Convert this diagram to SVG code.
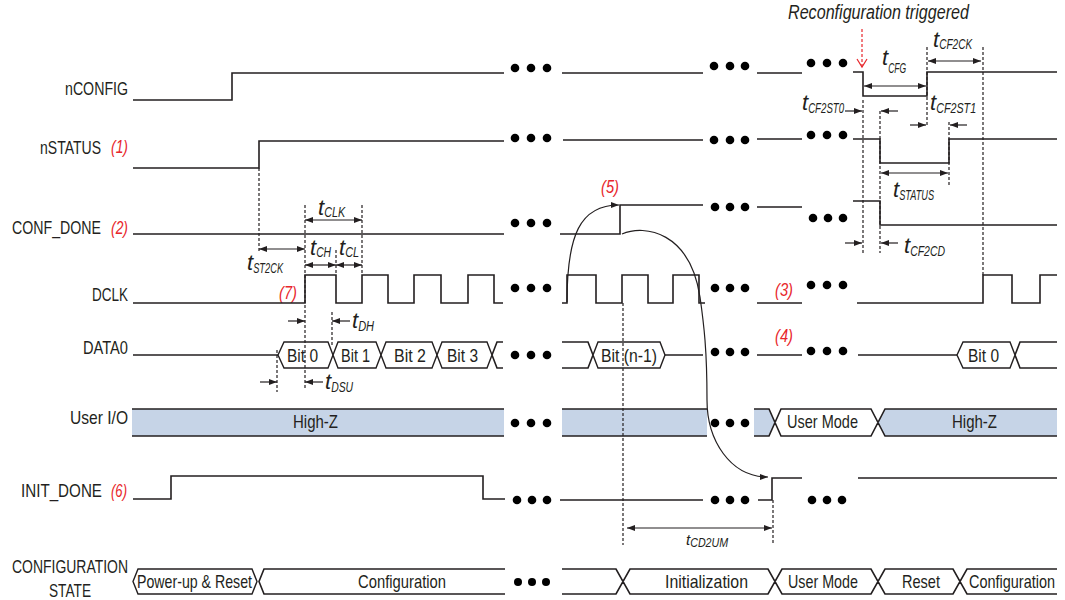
<svg xmlns="http://www.w3.org/2000/svg" width="1065" height="600" viewBox="0 0 1065 600">
<defs>
<style>
text{font-family:"Liberation Sans Narrow","Liberation Sans",Arial,sans-serif;fill:#231f20;font-size:19px}
.red{fill:#e8262b;font-style:italic}
.tm{font-style:italic;font-size:22px}
.sub{font-size:15px}
.sig{fill:none;stroke:#231f20;stroke-width:1.6}
.dash{fill:none;stroke:#231f20;stroke-width:1.2;stroke-dasharray:3 2}
.arr{fill:none;stroke:#231f20;stroke-width:1.2}
.a1{marker-end:url(#ah)}
.a2{marker-start:url(#ah);marker-end:url(#ah)}
.dot{fill:#000}
.band{fill:#c6d4e7}
.hexw{fill:#fff;stroke:#231f20;stroke-width:1.4}
</style>
<marker id="ah" viewBox="0 0 8 6" refX="8" refY="3" markerWidth="8" markerHeight="6" markerUnits="userSpaceOnUse" orient="auto-start-reverse"><path d="M0,0 L8,3 L0,6 z" fill="#231f20"/></marker>
</defs>
<rect x="0" y="0" width="1065" height="600" fill="#fff"/>

<g id="nconfig">
<text x="65" y="95" textLength="63" lengthAdjust="spacingAndGlyphs">nCONFIG</text>
<path class="sig" d="M133,100 H232 V73 H504 M562,73 H703 M757,73 H802 M853,72 H863 V96 H927 V72 H1057"/>
<circle class="dot" cx="515" cy="68" r="4.3"/><circle class="dot" cx="531" cy="68" r="4.3"/><circle class="dot" cx="547" cy="68" r="4.3"/>
<circle class="dot" cx="714" cy="66" r="4.3"/><circle class="dot" cx="730" cy="66" r="4.3"/><circle class="dot" cx="745" cy="66" r="4.3"/>
<circle class="dot" cx="811" cy="63" r="4.3"/><circle class="dot" cx="827" cy="63" r="4.3"/><circle class="dot" cx="843" cy="63" r="4.3"/>
</g>

<g id="nstatus">
<text x="40" y="154" textLength="61" lengthAdjust="spacingAndGlyphs">nSTATUS</text>
<text class="red" x="111" y="153" textLength="17" lengthAdjust="spacingAndGlyphs">(1)</text>
<path class="sig" d="M133,168 H259 V141 H504 M563,140 H703 M757,139 H802 M853,139 H880 V163 H949 V139 H1057"/>
<circle class="dot" cx="515" cy="138" r="4.3"/><circle class="dot" cx="531" cy="138" r="4.3"/><circle class="dot" cx="547" cy="138" r="4.3"/>
<circle class="dot" cx="714" cy="140" r="4.3"/><circle class="dot" cx="730" cy="140" r="4.3"/><circle class="dot" cx="745" cy="140" r="4.3"/>
<circle class="dot" cx="811" cy="135" r="4.3"/><circle class="dot" cx="827" cy="135" r="4.3"/><circle class="dot" cx="843" cy="135" r="4.3"/>
</g>

<g id="conf_done">
<text x="12" y="234" textLength="89" lengthAdjust="spacingAndGlyphs">CONF_DONE</text>
<text class="red" x="111" y="234" textLength="17" lengthAdjust="spacingAndGlyphs">(2)</text>
<path class="sig" d="M133,234 H504 M560,234 H620 V205 H703 M757,207 H802 M853,201 H880 V225 H1057"/>
<circle class="dot" cx="515" cy="223" r="4.3"/><circle class="dot" cx="531" cy="223" r="4.3"/><circle class="dot" cx="547" cy="223" r="4.3"/>
<circle class="dot" cx="715" cy="207" r="4.3"/><circle class="dot" cx="730" cy="207" r="4.3"/><circle class="dot" cx="745" cy="207" r="4.3"/>
<circle class="dot" cx="813" cy="218" r="4.3"/><circle class="dot" cx="828" cy="218" r="4.3"/><circle class="dot" cx="843" cy="218" r="4.3"/>
<text class="red" x="601" y="193" textLength="18" lengthAdjust="spacingAndGlyphs">(5)</text>
</g>

<g id="dclk">
<text x="92" y="301" textLength="36" lengthAdjust="spacingAndGlyphs">DCLK</text>
<text class="red" x="279" y="299" textLength="18" lengthAdjust="spacingAndGlyphs">(7)</text>
<text class="red" x="775" y="296" textLength="18" lengthAdjust="spacingAndGlyphs">(3)</text>
<path class="sig" d="M133,303 H305 V275 H336 V303 H362 V275 H388 V303 H414 V275 H441 V303 H468 V275 H494 V303 H503 M562,303 H567 V275 H596 V303 H622 V275 H648 V303 H673 V275 H699 V303 H705 M757,303 H802 M857,303 H983 V275 H1012 V303 H1040 V275 H1057"/>
<circle class="dot" cx="515" cy="288" r="4.3"/><circle class="dot" cx="531" cy="288" r="4.3"/><circle class="dot" cx="547" cy="288" r="4.3"/>
<circle class="dot" cx="715" cy="288" r="4.3"/><circle class="dot" cx="730" cy="288" r="4.3"/><circle class="dot" cx="745" cy="288" r="4.3"/>
<circle class="dot" cx="811" cy="285" r="4.3"/><circle class="dot" cx="827" cy="285" r="4.3"/><circle class="dot" cx="843" cy="285" r="4.3"/>
</g>

<g id="data0">
<text x="83" y="354" textLength="45" lengthAdjust="spacingAndGlyphs">DATA0</text>
<text class="red" x="775" y="342" textLength="18" lengthAdjust="spacingAndGlyphs">(4)</text>
<path class="sig" d="M133,355 H278 M492,355 L497,342 H503 M492,355 L497,368 H503 M562,342 H588 L593,355 M562,368 H588 L593,355 M665,355 H703 M757,355 H802 M858,355 H957 M1015,355 L1020,342 H1057 M1015,355 L1020,368 H1057"/>
<polygon class="hexw" points="278,355 284,342 328,342 333,355 328,368 284,368"/>
<polygon class="hexw" points="333,355 338,342 376,342 381,355 376,368 338,368"/>
<polygon class="hexw" points="381,355 386,342 432,342 437,355 432,368 386,368"/>
<polygon class="hexw" points="437,355 442,342 487,342 492,355 487,368 442,368"/>
<polygon class="hexw" points="593,355 598,342 660,342 665,355 660,368 598,368"/>
<polygon class="hexw" points="957,355 963,342 1010,342 1015,355 1010,368 963,368"/>
<text x="287" y="362" textLength="31" lengthAdjust="spacingAndGlyphs">Bit 0</text>
<text x="341" y="362" textLength="29" lengthAdjust="spacingAndGlyphs">Bit 1</text>
<text x="394" y="362" textLength="32" lengthAdjust="spacingAndGlyphs">Bit 2</text>
<text x="447" y="362" textLength="31" lengthAdjust="spacingAndGlyphs">Bit 3</text>
<text x="601" y="362" textLength="56" lengthAdjust="spacingAndGlyphs">Bit (n-1)</text>
<text x="968" y="362" textLength="31" lengthAdjust="spacingAndGlyphs">Bit 0</text>
<circle class="dot" cx="515" cy="355" r="4.3"/><circle class="dot" cx="531" cy="355" r="4.3"/><circle class="dot" cx="547" cy="355" r="4.3"/>
<circle class="dot" cx="715" cy="352" r="4.3"/><circle class="dot" cx="730" cy="352" r="4.3"/><circle class="dot" cx="745" cy="352" r="4.3"/>
<circle class="dot" cx="811" cy="351" r="4.3"/><circle class="dot" cx="827" cy="351" r="4.3"/><circle class="dot" cx="843" cy="351" r="4.3"/>
</g>

<g id="user_io">
<text x="70" y="424" textLength="58" lengthAdjust="spacingAndGlyphs">User I/O</text>
<rect class="band" x="132" y="409" width="372" height="27"/>
<rect class="band" x="562" y="409" width="145" height="27"/>
<polygon class="band" points="754,409 769,409 775,422.5 769,436 754,436"/>
<polygon fill="#fff" points="775,422.5 781,409 871,409 878,422.5 871,436 781,436"/>
<polygon class="band" points="878,422.5 885,409 1057,409 1057,436 885,436"/>
<path class="sig" d="M132,409 H504 M132,436 H504 M562,409 H707 M562,436 H707 M754,409 H769 L781,436 H871 L885,409 H1057 M754,436 H769 L781,409 H871 L885,436 H1057"/>
<text x="293" y="428" textLength="45" lengthAdjust="spacingAndGlyphs">High-Z</text>
<text x="787" y="428" textLength="71" lengthAdjust="spacingAndGlyphs">User Mode</text>
<text x="952" y="428" textLength="45" lengthAdjust="spacingAndGlyphs">High-Z</text>
<circle class="dot" cx="515" cy="423" r="4.3"/><circle class="dot" cx="531" cy="423" r="4.3"/><circle class="dot" cx="547" cy="423" r="4.3"/>
<circle class="dot" cx="715" cy="423" r="4.3"/><circle class="dot" cx="730" cy="423" r="4.3"/><circle class="dot" cx="745" cy="423" r="4.3"/>
</g>

<g id="init_done">
<text x="21" y="497" textLength="81" lengthAdjust="spacingAndGlyphs">INIT_DONE</text>
<text class="red" x="111" y="497" textLength="16" lengthAdjust="spacingAndGlyphs">(6)</text>
<path class="sig" d="M133,499 H171 V476 H483 V499 H505 M560,500 H703 M758,500 H772 V478 H802 M858,478 H1057"/>
<circle class="dot" cx="517" cy="500" r="4.3"/><circle class="dot" cx="532" cy="500" r="4.3"/><circle class="dot" cx="547" cy="500" r="4.3"/>
<circle class="dot" cx="715" cy="500" r="4.3"/><circle class="dot" cx="730" cy="500" r="4.3"/><circle class="dot" cx="745" cy="500" r="4.3"/>
<circle class="dot" cx="812" cy="500" r="4.3"/><circle class="dot" cx="827" cy="500" r="4.3"/><circle class="dot" cx="842" cy="500" r="4.3"/>
</g>

<g id="config_state">
<text x="12" y="573" textLength="116" lengthAdjust="spacingAndGlyphs">CONFIGURATION</text>
<text x="49" y="597" textLength="42" lengthAdjust="spacingAndGlyphs">STATE</text>
<polygon class="hexw" points="133,581.5 138,569 252,569 257,581.5 252,594 138,594"/>
<path class="sig" d="M505,569 H264 L259,581.5 L264,594 H505 M562,569 H616 L630,594 H768 L782,569 H871 L885,594 H953 L967,569 H1057 M562,594 H616 L630,569 H768 L782,594 H871 L885,569 H953 L967,594 H1057"/>
<text x="137" y="588" textLength="115" lengthAdjust="spacingAndGlyphs">Power-up &amp; Reset</text>
<text x="358" y="588" textLength="88" lengthAdjust="spacingAndGlyphs">Configuration</text>
<text x="665" y="588" textLength="83" lengthAdjust="spacingAndGlyphs">Initialization</text>
<text x="788" y="588" textLength="70" lengthAdjust="spacingAndGlyphs">User Mode</text>
<text x="902" y="588" textLength="38" lengthAdjust="spacingAndGlyphs">Reset</text>
<text x="969" y="588" textLength="86" lengthAdjust="spacingAndGlyphs">Configuration</text>
<circle class="dot" cx="518" cy="582" r="4"/><circle class="dot" cx="532" cy="582" r="4"/><circle class="dot" cx="546" cy="582" r="4"/>
</g>

<g id="connectors">
<path class="dash" d="M259,168 V252 M305,205 V390 M362,205 V275 M336,250 V275 M332,312 V347 M277,350 V392 M623,303 V545 M773,500 V545 M863,100 V253 M880,111 V253 M927,47 V125 M949,122 V186 M983,47 V275"/>
<line class="arr a2" x1="259" y1="249" x2="305" y2="249"/>
<line class="arr a2" x1="305" y1="220" x2="362" y2="220"/>
<line class="arr a2" x1="305" y1="265" x2="336" y2="265"/>
<line class="arr a2" x1="336" y1="265" x2="362" y2="265"/>
<line class="arr a1" x1="288" y1="321" x2="305" y2="321"/>
<line class="arr a1" x1="350" y1="321" x2="332" y2="321"/>
<line class="arr a1" x1="260" y1="382" x2="277" y2="382"/>
<line class="arr a1" x1="323" y1="382" x2="305" y2="382"/>
<line class="arr a2" x1="627" y1="528" x2="772" y2="528"/>
<line class="arr a2" x1="864" y1="86" x2="926" y2="86"/>
<line class="arr a2" x1="928" y1="61" x2="981" y2="61"/>
<line class="arr a1" x1="845" y1="111" x2="862" y2="111"/>
<line class="arr a1" x1="898" y1="111" x2="881" y2="111"/>
<line class="arr a1" x1="910" y1="125" x2="926" y2="125"/>
<line class="arr a1" x1="967" y1="125" x2="950" y2="125"/>
<line class="arr a2" x1="881" y1="173" x2="948" y2="173"/>
<line class="arr a1" x1="845" y1="243" x2="862" y2="243"/>
<line class="arr a1" x1="898" y1="243" x2="881" y2="243"/>
<path class="arr a1" d="M567,302 C567,235 580,205 619,205"/>
<path class="arr a1" d="M622,234 C645,224 690,232 700,297 C704,325 707,350 707,400 C707,440 730,477 768,477"/>
<line x1="862" y1="29" x2="862" y2="66" stroke="#e8262b" stroke-width="1.2" stroke-dasharray="3 2"/>
<polyline points="857,59 862,67 867,59" fill="none" stroke="#e8262b" stroke-width="1.2"/>
<text class="tm" x="788" y="19" style="font-size:20px" textLength="181" lengthAdjust="spacingAndGlyphs">Reconfiguration triggered</text>
<text class="tm" x="318" y="215">t<tspan class="sub" dy="2" textLength="21" lengthAdjust="spacingAndGlyphs">CLK</tspan></text>
<text class="tm" x="310" y="255">t<tspan class="sub" dy="2" textLength="15" lengthAdjust="spacingAndGlyphs">CH</tspan></text>
<text class="tm" x="339" y="255">t<tspan class="sub" dy="2" textLength="14" lengthAdjust="spacingAndGlyphs">CL</tspan></text>
<text class="tm" x="247" y="270">t<tspan class="sub" dy="3" textLength="30" lengthAdjust="spacingAndGlyphs">ST2CK</tspan></text>
<text class="tm" x="352" y="328">t<tspan class="sub" dy="3" textLength="16" lengthAdjust="spacingAndGlyphs">DH</tspan></text>
<text class="tm" x="325" y="389">t<tspan class="sub" dy="3" textLength="22" lengthAdjust="spacingAndGlyphs">DSU</tspan></text>
<text class="tm" x="882" y="65">t<tspan class="sub" dy="8" textLength="18" lengthAdjust="spacingAndGlyphs">CFG</tspan></text>
<text class="tm" x="933" y="47">t<tspan class="sub" dy="2" textLength="33" lengthAdjust="spacingAndGlyphs">CF2CK</tspan></text>
<text class="tm" x="802" y="110">t<tspan class="sub" dy="3" textLength="36" lengthAdjust="spacingAndGlyphs">CF2ST0</tspan></text>
<text class="tm" x="930" y="110">t<tspan class="sub" dy="3" textLength="40" lengthAdjust="spacingAndGlyphs">CF2ST1</tspan></text>
<text class="tm" x="893" y="197">t<tspan class="sub" dy="3" textLength="35" lengthAdjust="spacingAndGlyphs">STATUS</tspan></text>
<text class="tm" x="904" y="253">t<tspan class="sub" dy="3" textLength="35" lengthAdjust="spacingAndGlyphs">CF2CD</tspan></text>
<text class="tm" x="686" y="545" style="font-size:15px">t<tspan style="font-size:12px" dy="2" textLength="38" lengthAdjust="spacingAndGlyphs">CD2UM</tspan></text>
</g>
</svg>
